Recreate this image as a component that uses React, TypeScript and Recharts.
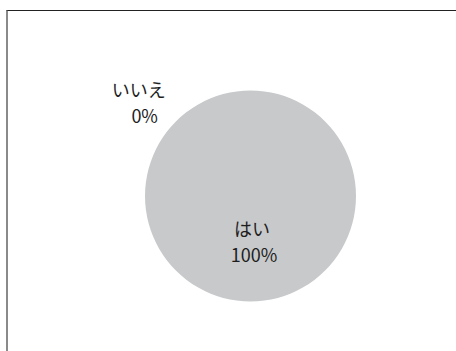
import { Cell, Pie, PieChart } from 'recharts';

const categories = ['はい', 'いいえ'];
const values = [100, 0];
const percentLabels = ['100%', '0%'];

const data = categories.map((name, i) => ({ name, value: values[i], pct: percentLabels[i] }));

const FONT = '"Noto Sans CJK JP", "Noto Sans", sans-serif';
const LINE = 26;

type LabelProps = {
  cx?: number;
  cy?: number;
  outerRadius?: number;
  index?: number;
};

function renderLabel(props: LabelProps) {
  const cx = Number(props.cx ?? 0);
  const cy = Number(props.cy ?? 0);
  const r = Number(props.outerRadius ?? 0);
  const index = props.index ?? 0;
  const entry = data[index];
  if (!entry) return null;

  // Excel-like placement: big slice label inside, empty slice label outside top-left
  const inside = entry.value > 0;
  const x = inside ? cx + 1.5 : cx - r * 1.06;
  const y = inside ? cy + r * 0.38 : cy - r * 0.94;

  return (
    <text
      key={`label-${index}`}
      x={x}
      y={y}
      textAnchor="middle"
      fill="#1e1e1e"
      fontSize={18}
      fontFamily={FONT}
    >
      <tspan x={x} dy={0}>{entry.name}</tspan>
      <tspan x={x + (inside ? 2 : 6)} dy={LINE}>{entry.pct}</tspan>
    </text>
  );
}

export default function App() {
  return (
    <div style={{ position: 'absolute', left: 0, top: 0, width: 456, height: 351, background: '#fff', overflow: 'hidden' }}>
      <div
        style={{
          position: 'absolute',
          left: 6,
          top: 10,
          width: 460,
          height: 360,
          borderLeft: '2px solid #8a8a8a',
          borderTop: '1px solid #222',
        }}
      />
      <div style={{ position: 'absolute', left: 0, top: 0 }}>
        <PieChart width={456} height={351} margin={{ top: 0, right: 0, bottom: 0, left: 0 }}>
          <Pie
            data={data}
            dataKey="value"
            nameKey="name"
            cx={250.5}
            cy={196}
            outerRadius={105.5}
            startAngle={90}
            endAngle={-270}
            stroke="none"
            label={renderLabel}
            labelLine={false}
            isAnimationActive={false}
          >
            {data.map((d) => (
              <Cell key={d.name} fill="#c8c9cb" />
            ))}
          </Pie>
        </PieChart>
      </div>
    </div>
  );
}
